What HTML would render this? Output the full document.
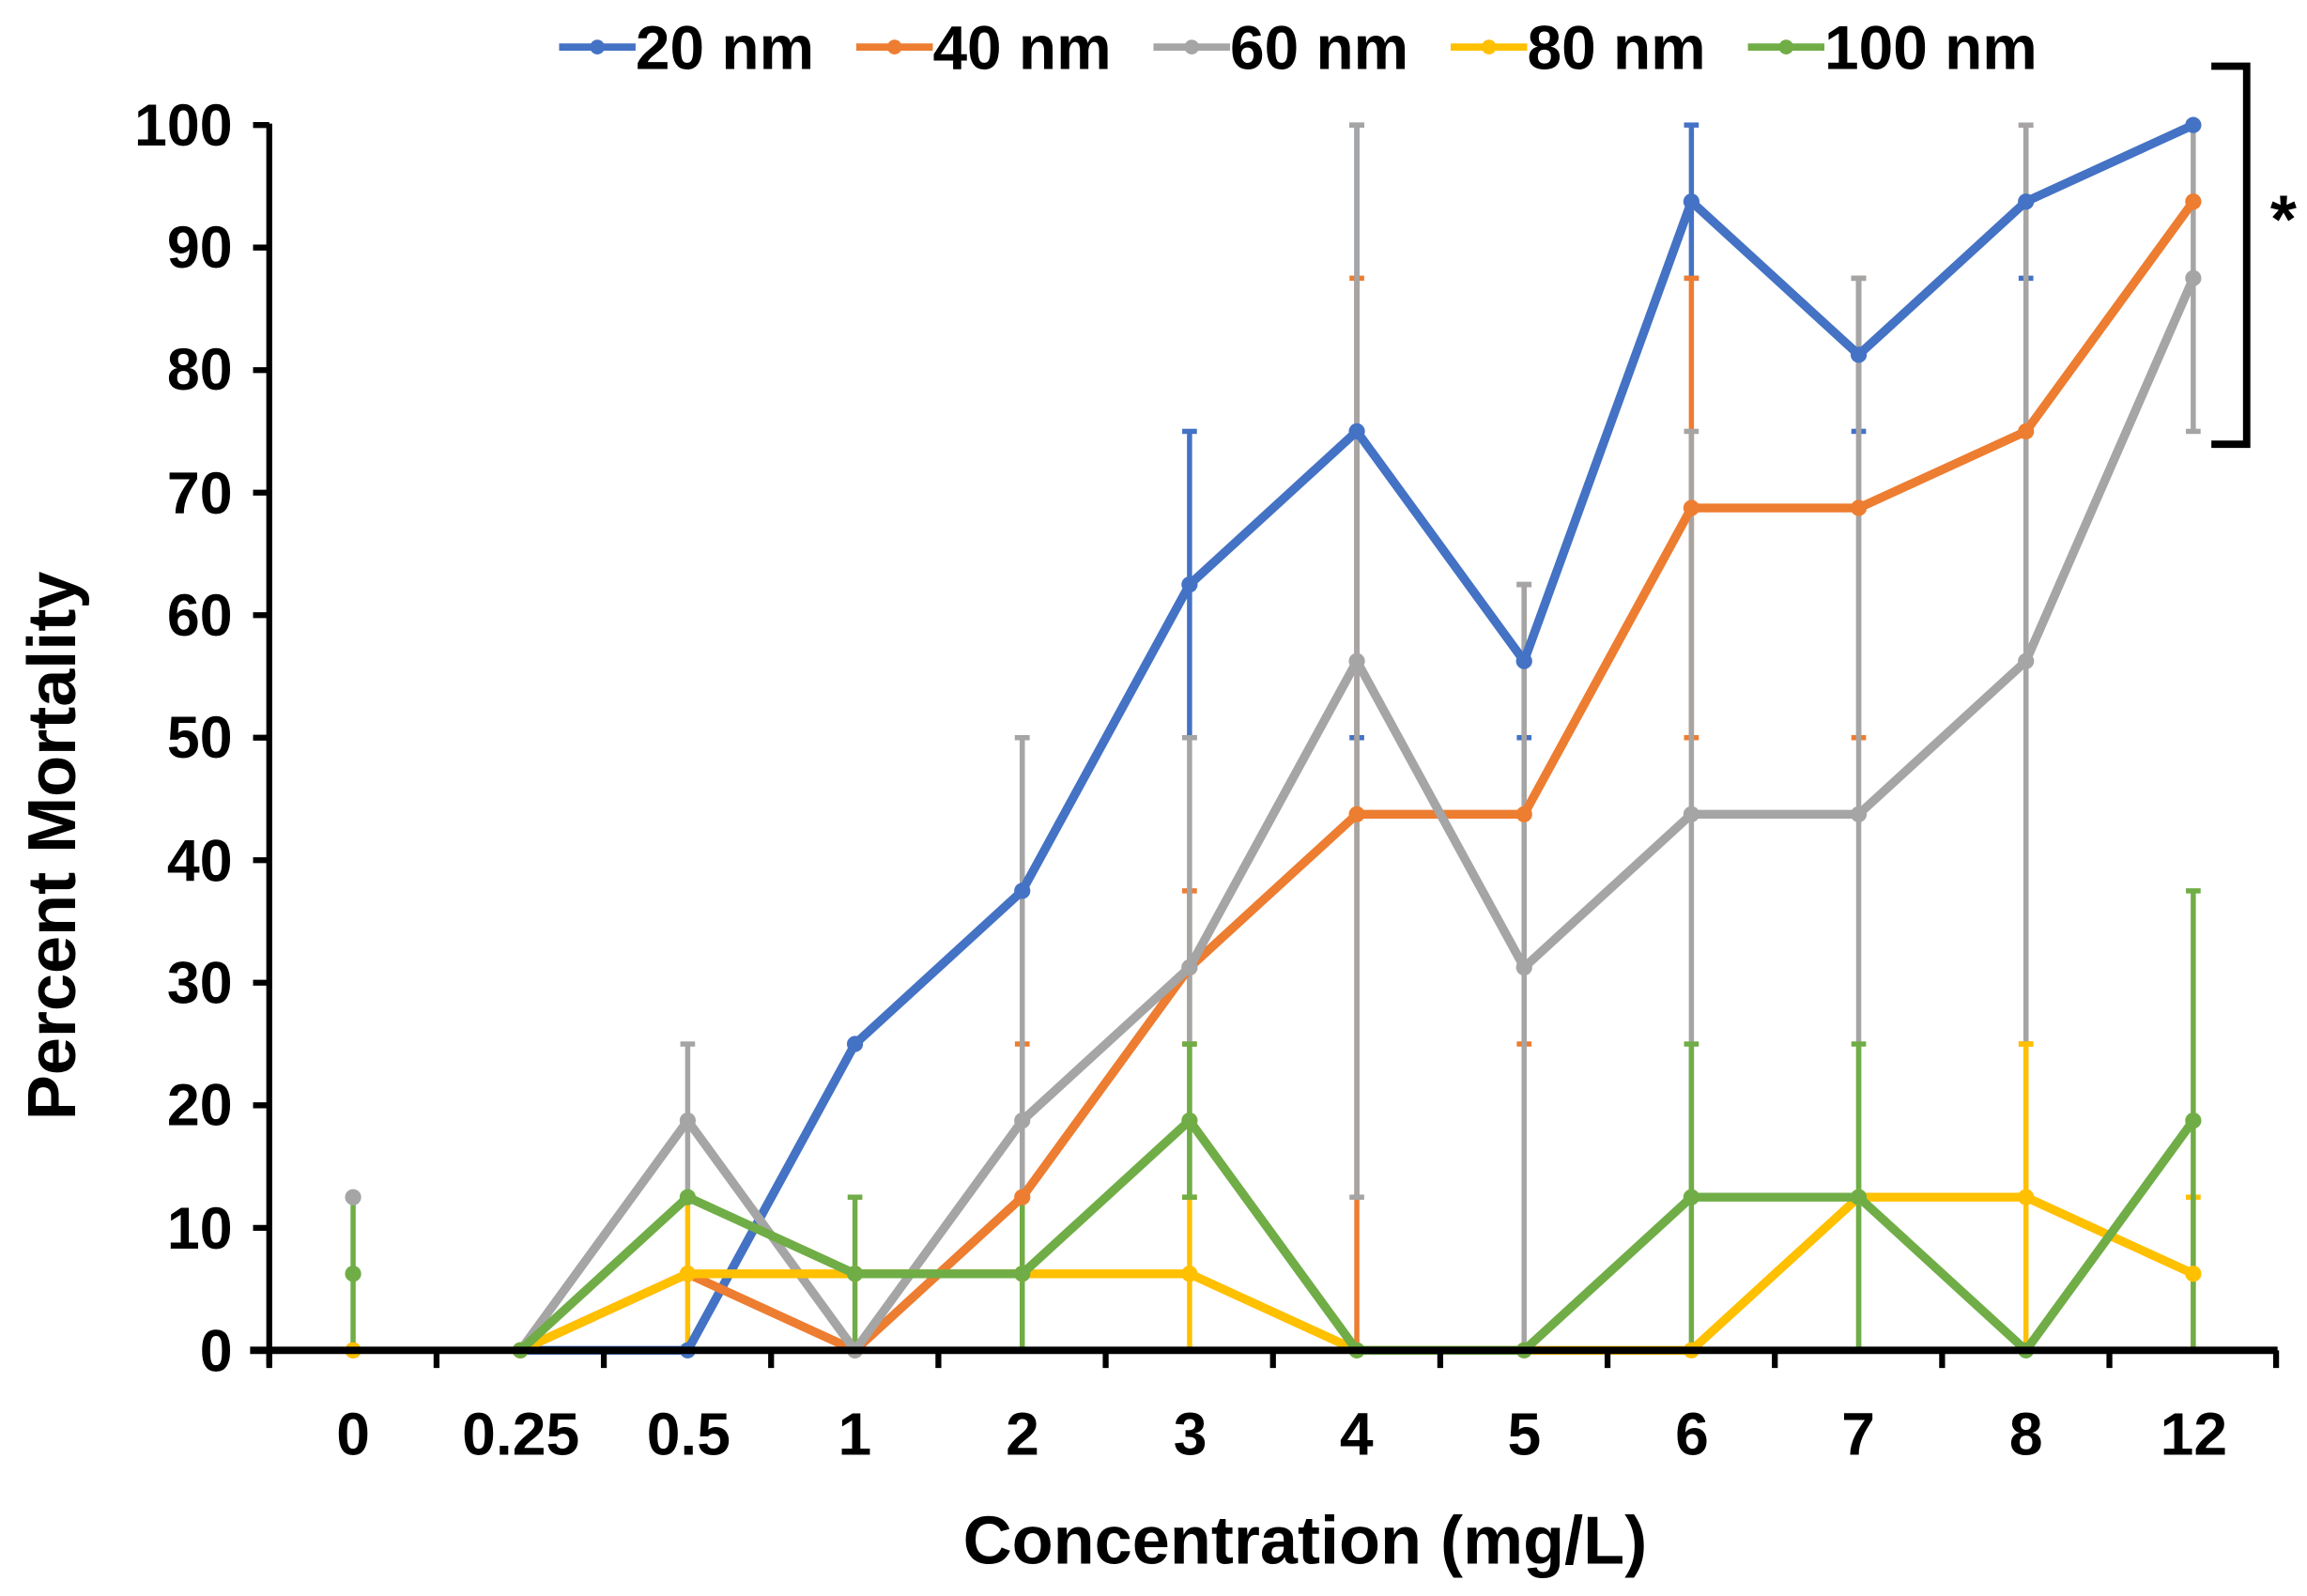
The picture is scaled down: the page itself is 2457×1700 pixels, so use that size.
<!DOCTYPE html>
<html><head><meta charset="utf-8"><style>
html,body{margin:0;padding:0;background:#fff;}
svg{display:block;}
text{font-family:"Liberation Sans",Arial,sans-serif;font-weight:bold;fill:#000;}
</style></head><body>
<svg id="s" width="2457" height="1700" viewBox="0 0 1568 1085" preserveAspectRatio="none" xmlns="http://www.w3.org/2000/svg">
<g id="err"></g>
<g id="lines"></g>
<line x1="183" y1="84" x2="183" y2="928" stroke="#000" stroke-width="4"/>
<line x1="170" y1="918" x2="1548" y2="918" stroke="#000" stroke-width="5"/>
<g id="ticks" stroke="#000" stroke-width="4"></g>
<g font-size="40" text-anchor="end">
<text x="158" y="932">0</text><text x="158" y="849">10</text><text x="158" y="765">20</text><text x="158" y="682">30</text><text x="158" y="599">40</text><text x="158" y="515">50</text><text x="158" y="432">60</text><text x="158" y="349">70</text><text x="158" y="265">80</text><text x="158" y="182">90</text><text x="158" y="99">100</text>
</g>
<g font-size="41" text-anchor="middle">
<text x="240" y="989">0</text><text x="354" y="989">0.25</text><text x="468" y="989">0.5</text><text x="581" y="989">1</text><text x="695" y="989">2</text><text x="809" y="989">3</text><text x="922" y="989">4</text><text x="1036" y="989">5</text><text x="1150" y="989">6</text><text x="1263" y="989">7</text><text x="1377" y="989">8</text><text x="1491" y="989">12</text>
</g>
<text x="887" y="1063" font-size="46" text-anchor="middle">Concentration (mg/L)</text>
<text transform="translate(51,575) rotate(-90)" font-size="46" text-anchor="middle">Percent Mortality</text>
<g font-size="42">
<line x1="380" y1="32" x2="432" y2="32" stroke="#4472C4" stroke-width="5"/><circle cx="406" cy="32" r="5" fill="#4472C4"/><text x="432" y="47">20 nm</text>
<line x1="582" y1="32" x2="634" y2="32" stroke="#ED7D31" stroke-width="5"/><circle cx="608" cy="32" r="5" fill="#ED7D31"/><text x="634" y="47">40 nm</text>
<line x1="784" y1="32" x2="836" y2="32" stroke="#A5A5A5" stroke-width="5"/><circle cx="810" cy="32" r="5" fill="#A5A5A5"/><text x="836" y="47">60 nm</text>
<line x1="986" y1="32" x2="1038" y2="32" stroke="#FFC000" stroke-width="5"/><circle cx="1012" cy="32" r="5" fill="#FFC000"/><text x="1038" y="47">80 nm</text>
<line x1="1188" y1="32" x2="1240" y2="32" stroke="#70AD47" stroke-width="5"/><circle cx="1214" cy="32" r="5" fill="#70AD47"/><text x="1240" y="47">100 nm</text>
</g>
<path d="M1503 45 H1527 V302 H1503" fill="none" stroke="#000" stroke-width="5"/>
<text x="1552" y="165" font-size="46" text-anchor="middle">*</text>
</svg>
<script>
var X=i=>240+i*113.7, Y=v=>918-v*8.33;
var ns="http://www.w3.org/2000/svg";
function el(p,t,a){var e=document.createElementNS(ns,t);for(var k in a)e.setAttribute(k,a[k]);document.getElementById(p).appendChild(e);return e;}
for(var k=0;k<12;k++){el("ticks","line",{x1:183+k*113.7,y1:918,x2:183+k*113.7,y2:930});}
el("ticks","line",{x1:1547,y1:918,x2:1547,y2:930});
for(var v=0;v<=100;v+=10)el("ticks","line",{x1:172,y1:Y(v),x2:183,y2:Y(v)});
var S=[
{c:"#4472C4",d:[null,0,0,25,37.5,62.5,75,56.25,93.75,81.25,93.75,100],e:[null,null,null,null,[37.5,50],[50,75],[50,100],[50,62.5],[87.5,100],[75,87.5],[87.5,100],null]},
{c:"#ED7D31",d:[0,0,6.25,0,12.5,31.25,43.75,43.75,68.75,68.75,75,93.75],e:[null,null,null,null,[0,25],[25,37.5],[0,87.5],[25,62.5],[50,87.5],[50,87.5],[25,100],null]},
{c:"#A5A5A5",d:[12.5,0,18.75,0,18.75,31.25,56.25,31.25,43.75,43.75,56.25,87.5],e:[null,null,[12.5,25],null,[0,50],[12.5,50],[12.5,100],[0,62.5],[12.5,75],[0,87.5],[12.5,100],[75,100]]},
{c:"#FFC000",d:[0,0,6.25,6.25,6.25,6.25,0,0,0,12.5,12.5,6.25],e:[null,null,[0,12.5],null,null,[0,12.5],null,null,null,null,[0,25],[0,12.5]]},
{c:"#70AD47",d:[6.25,0,12.5,6.25,6.25,18.75,0,0,12.5,12.5,0,18.75],e:[[0,12.5],null,null,[0,12.5],[0,12.5],[12.5,25],null,null,[0,25],[0,25],null,[0,37.5]]}
];
S.forEach(s=>{
 s.e.forEach((r,i)=>{if(!r)return;el("err","line",{x1:X(i),y1:Y(r[0]),x2:X(i),y2:Y(r[1]),stroke:s.c,"stroke-width":3.5});
  el("err","line",{x1:X(i)-5,y1:Y(r[1]),x2:X(i)+5,y2:Y(r[1]),stroke:s.c,"stroke-width":3.5});
  el("err","line",{x1:X(i)-5,y1:Y(r[0]),x2:X(i)+5,y2:Y(r[0]),stroke:s.c,"stroke-width":3.5});});
});
S.forEach(s=>{
 var p="";for(var i=1;i<12;i++)p+=(i==1?"M":"L")+X(i)+" "+Y(s.d[i]);
 el("lines","path",{d:p,fill:"none",stroke:s.c,"stroke-width":6,"stroke-linejoin":"round"});
 s.d.forEach((v,i)=>{if(v!==null)el("lines","circle",{cx:X(i),cy:Y(v),r:5.5,fill:s.c});});
});
</script>
</body></html>
